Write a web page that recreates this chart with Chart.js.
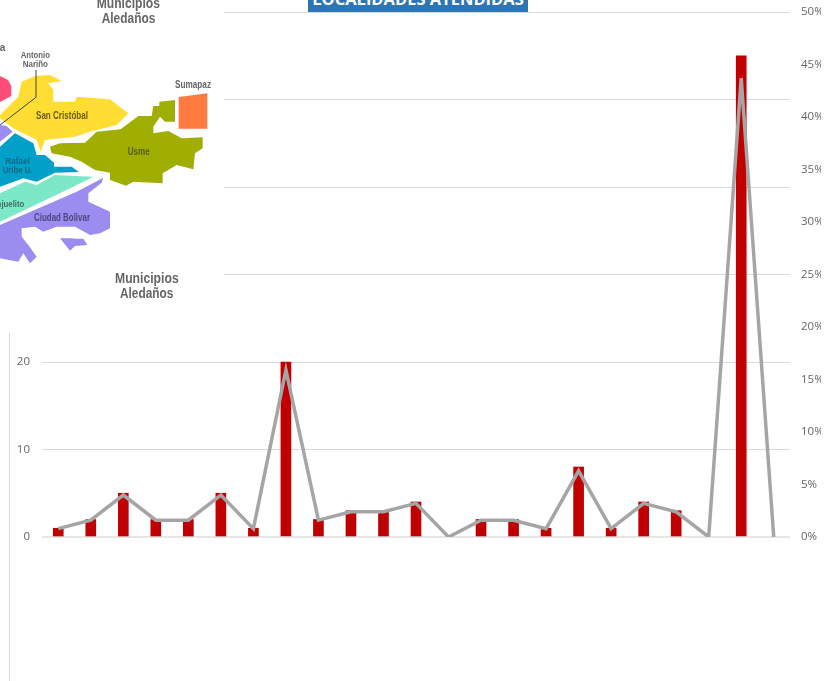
<!DOCTYPE html>
<html>
<head>
<meta charset="utf-8">
<title>Localidades atendidas</title>
<script src="https://cdn.jsdelivr.net/npm/chart.js@4"></script>
<style>
  html, body { margin: 0; padding: 0; background: #fff; }
  #wrap { position: relative; width: 825px; height: 681px; overflow: hidden; }
  #localidades-chart { position: absolute; left: 0; top: 0; }
  #mapa { position: absolute; left: 0; top: 0; filter: blur(0.35px); }
  #titulo {
    position: absolute; left: 308px; top: 0; width: 220px; height: 12px; overflow: hidden;
    background: #2e75b6; color: #fff; text-align: center; white-space: nowrap;
    font: bold 16.5px/1 "Open Sans", sans-serif;
  }
  #titulo span { position: relative; top: -9px; }
  #borde { position: absolute; left: 9px; top: 333px; width: 1px; height: 348px; background: #d9d9d9; }
  #corte { position: absolute; left: 821px; top: 0; width: 4px; height: 681px; background: #fff; }
  #mapa text { font-family: "Liberation Sans", sans-serif; font-weight: bold; }
</style>
</head>
<body>
<div id="wrap">
  <canvas id="localidades-chart" width="825" height="681"></canvas>

  <!-- picture of the map pasted over the left of the chart -->
  <svg id="mapa" width="224" height="333" viewBox="0 0 672 999">
    <rect width="672" height="999" fill="#fff"/>
    <polygon fill="#ff4d7a" points="0,228 24,240 34,258 34,288 0,306"/>
    <polygon fill="#ffdd33" points="0,345 55,290 65,245 105,228 150,225 185,243 145,250 160,270 160,305 225,305 230,290 330,298 385,340 350,375 270,395 225,410 135,420 122,455 110,420 40,385 0,355"/>
    <polygon fill="#9fae00" points="150,440 180,430 255,428 290,395 362,388 415,348 455,348 460,318 478,318 478,305 525,300 525,365 495,365 480,350 460,380 460,400 505,393 545,415 608,412 608,445 585,460 580,508 530,495 488,520 488,550 400,545 378,557 330,540 330,518 285,510 245,485 210,470 155,460"/>
    <polygon fill="#ff7a40" points="536,291 622,280 622,386 536,386"/>
    <polygon fill="#00a0c8" points="0,440 45,400 100,430 110,465 135,465 162,488 162,500 215,500 237,516 165,518 110,545 70,535 0,560"/>
    <polygon fill="#9b8cf0" points="0,375 20,378 38,395 0,425"/>
    <polygon fill="#7de8c8" points="0,580 75,545 110,555 165,525 280,530 200,570 0,665"/>
    <polygon fill="#9b8cf0" points="0,675 230,575 310,533 305,548 265,580 265,605 330,635 330,685 300,700 270,705 225,680 170,680 130,695 105,680 65,685 65,710 85,735 110,770 90,790 70,760 55,785 0,775"/>
    <polygon fill="#9b8cf0" points="180,715 215,715 225,716 250,716 262,735 225,738 210,752"/>
    <polyline fill="none" stroke="#444" stroke-width="3" points="108,210 108,292 0,375"/>

    <g fill="#666">
      <text x="290" y="25" font-size="45" textLength="190" lengthAdjust="spacingAndGlyphs">Municipios</text>
      <text x="305" y="70" font-size="45" textLength="161" lengthAdjust="spacingAndGlyphs">Aledaños</text>
      <text x="345" y="850" font-size="45" textLength="191" lengthAdjust="spacingAndGlyphs">Municipios</text>
      <text x="360" y="895" font-size="45" textLength="160" lengthAdjust="spacingAndGlyphs">Aledaños</text>
      <text x="16" y="152" font-size="30" text-anchor="end">Candelaria</text>
      <text x="62" y="174" font-size="29" textLength="88" lengthAdjust="spacingAndGlyphs">Antonio</text>
      <text x="68" y="200" font-size="29" textLength="76" lengthAdjust="spacingAndGlyphs">Nariño</text>
      <text x="525" y="264" font-size="31" textLength="108" lengthAdjust="spacingAndGlyphs">Sumapaz</text>
    </g>
    <text x="108" y="356" font-size="32" fill="#6b5a10" textLength="156" lengthAdjust="spacingAndGlyphs">San Cristóbal</text>
    <text x="383" y="464" font-size="30" fill="#56600a" textLength="66" lengthAdjust="spacingAndGlyphs">Usme</text>
    <text x="16" y="492" font-size="29" fill="#0f6a86" textLength="74" lengthAdjust="spacingAndGlyphs">Rafael</text>
    <text x="8" y="520" font-size="29" fill="#0f6a86" textLength="90" lengthAdjust="spacingAndGlyphs">Uribe U.</text>
    <text x="-37" y="620" font-size="29" fill="#3f6f60" textLength="110" lengthAdjust="spacingAndGlyphs">Tunjuelito</text>
    <text x="102" y="663" font-size="31" fill="#4d4680" textLength="168" lengthAdjust="spacingAndGlyphs">Ciudad Bolivar</text>
  </svg>

  <div id="borde"></div>
  <div id="titulo"><span>LOCALIDADES ATENDIDAS</span></div>
  <div id="corte"></div>
</div>

<script>
// values, one per locality
var categories = ["1","2","3","4","5","6","7","8","9","10","11","12","13","14","15","16","17","18","19","20","21","22","23"];
var cantidad = [1, 2, 5, 2, 2, 5, 1, 20, 2, 3, 3, 4, 0, 2, 2, 1, 8, 1, 4, 3, 0, 55, 0];
var porcentaje = [0.8, 1.6, 4.0, 1.6, 1.6, 4.0, 0.8, 15.9, 1.6, 2.4, 2.4, 3.2, 0, 1.6, 1.6, 0.8, 6.3, 0.8, 3.2, 2.4, 0, 43.7, 0];
var leftTicks = [0, 10, 20, 30, 40, 50, 60];
var rightTicks = [0, 5, 10, 15, 20, 25, 30, 35, 40, 45, 50];

var tickFont = { family: "Open Sans", size: 11.5 };

var ctx = document.getElementById("localidades-chart");
Chart.defaults.animation = false;

new Chart(ctx, {
  type: 'bar',
  data: {
    labels: categories,
    datasets: [
      {
        type: 'line',
        label: 'Porcentaje',
        data: porcentaje,
        yAxisID: 'y2',
        borderColor: '#a5a5a5',
        borderWidth: 3.5,
        pointRadius: 0,
        tension: 0,
        order: 0
      },
      {
        label: 'Cantidad',
        data: cantidad,
        yAxisID: 'y',
        // empty localities leave a pink speck otherwise
        backgroundColor: function(c) { return c.raw === 0 ? 'transparent' : '#c00000'; },
        barThickness: 10,
        order: 1
      }
    ]
  },
  options: {
    responsive: false,
    layout: { autoPadding: false, padding: { top: 12, bottom: 144, left: 0, right: 0 } },
    plugins: { legend: { display: false }, title: { display: false }, tooltip: { enabled: false } },
    scales: {
      x: {
        display: true,
        grid: { display: false, drawTicks: false },
        border: { display: false },
        ticks: { display: false },
        afterFit: function(scale) { scale.height = 0; }
      },
      y: {
        position: 'left',
        min: 0,
        max: 60,
        afterBuildTicks: function(scale) { scale.ticks = leftTicks.map(function(v) { return { value: v }; }); },
        // tick padding otherwise pushes the plot top down
        afterFit: function(scale) { scale.width = 42; scale.paddingTop = 0; scale.paddingBottom = 0; },
        grid: {
          color: function(c) { return c.tick.value === 0 ? '#e6e6e6' : '#d9d9d9'; },
          lineWidth: function(c) { return c.tick.value === 0 ? 2 : 1; },
          drawTicks: false
        },
        border: { display: false },
        ticks: { color: '#666666', font: tickFont, padding: 12 }
      },
      y2: {
        position: 'right',
        min: 0,
        max: 50,
        afterBuildTicks: function(scale) { scale.ticks = rightTicks.map(function(v) { return { value: v }; }); },
        afterFit: function(scale) { scale.width = 35; scale.paddingTop = 0; scale.paddingBottom = 0; },
        grid: { display: false, drawTicks: false },
        border: { display: false },
        ticks: {
          color: '#666666',
          font: tickFont,
          padding: 11,
          callback: function(v) { return v + '%'; }
        }
      }
    }
  }
});
</script>
</body>
</html>
